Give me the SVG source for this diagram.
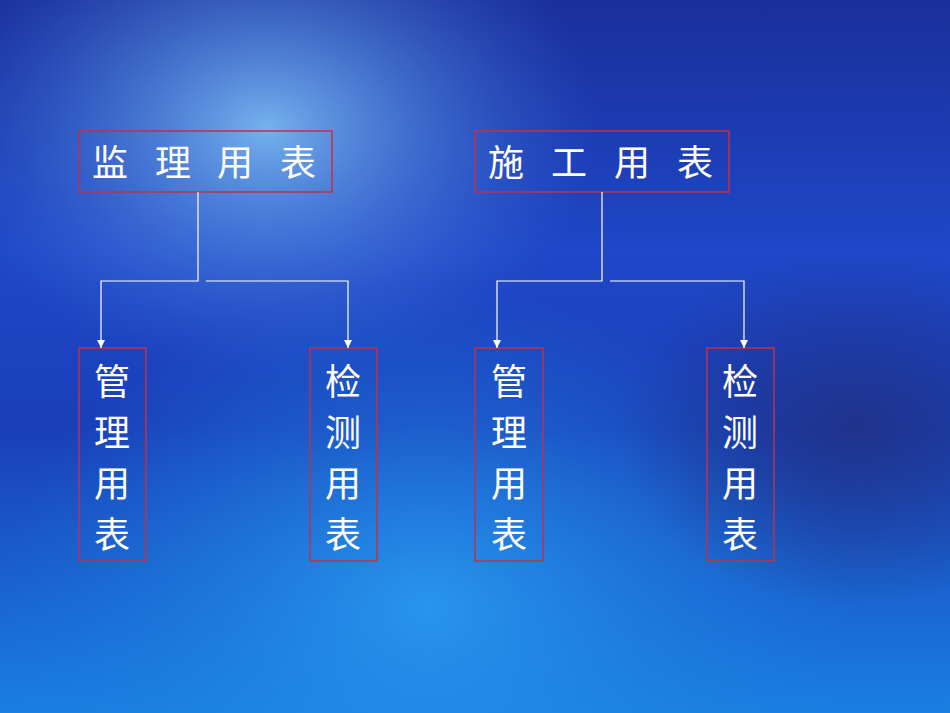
<svg xmlns="http://www.w3.org/2000/svg" width="950" height="713" viewBox="0 0 950 713">
<defs>
<linearGradient id="bg" x1="0" y1="0" x2="0" y2="1">
<stop offset="0" stop-color="#1a2f9a"/><stop offset="0.35" stop-color="#1f47c8"/><stop offset="0.6" stop-color="#1a3fb8"/><stop offset="1" stop-color="#1a7fe0"/>
</linearGradient>
<radialGradient id="g1" cx="0.28" cy="0.18" r="0.35">
<stop offset="0" stop-color="#7ab8f0" stop-opacity="0.95"/><stop offset="1" stop-color="#3a70d8" stop-opacity="0"/>
</radialGradient>
<radialGradient id="g2" cx="0.45" cy="0.85" r="0.45">
<stop offset="0" stop-color="#2a9af0" stop-opacity="0.9"/><stop offset="1" stop-color="#1a7fe0" stop-opacity="0"/>
</radialGradient>
<radialGradient id="g3" cx="0.9" cy="0.6" r="0.25">
<stop offset="0" stop-color="#203080" stop-opacity="0.8"/><stop offset="1" stop-color="#203080" stop-opacity="0"/>
</radialGradient>
<marker id="arr" viewBox="0 0 10 10" refX="10" refY="5" markerWidth="7" markerHeight="7" orient="auto"><path d="M0,0L10,5L0,10z" fill="#fff"/></marker>
<style>
.box{fill:none;stroke:#c0304a;stroke-width:1.5}
.t{fill:#fff;font-family:"Noto Sans CJK SC","Noto Sans",sans-serif;font-size:36px;text-anchor:middle}
.c{fill:none;stroke:#fff;stroke-width:1.2}
</style>
</defs>
<rect width="950" height="713" fill="url(#bg)"/>
<rect width="950" height="713" fill="url(#g1)"/>
<rect width="950" height="713" fill="url(#g2)"/>
<rect width="950" height="713" fill="url(#g3)"/>
<g id="n1"><rect class="box" x="79" y="131" width="253" height="61"/><text class="t" y="176"><tspan x="110">监</tspan><tspan x="173">理</tspan><tspan x="235">用</tspan><tspan x="298">表</tspan></text></g>
<g id="n2"><rect class="box" x="475" y="131" width="254" height="61"/><text class="t" y="176"><tspan x="506">施</tspan><tspan x="569">工</tspan><tspan x="632">用</tspan><tspan x="695">表</tspan></text></g>
<g id="n3"><rect class="box" x="79" y="348" width="67" height="213"/><text class="t"><tspan x="112" y="395">管</tspan><tspan x="112" y="446">理</tspan><tspan x="112" y="497">用</tspan><tspan x="112" y="548">表</tspan></text></g>
<g id="n4"><rect class="box" x="310" y="348" width="67" height="213"/><text class="t"><tspan x="343" y="395">检</tspan><tspan x="343" y="446">测</tspan><tspan x="343" y="497">用</tspan><tspan x="343" y="548">表</tspan></text></g>
<g id="n5"><rect class="box" x="475" y="348" width="68" height="213"/><text class="t"><tspan x="509" y="395">管</tspan><tspan x="509" y="446">理</tspan><tspan x="509" y="497">用</tspan><tspan x="509" y="548">表</tspan></text></g>
<g id="n6"><rect class="box" x="707" y="348" width="67" height="213"/><text class="t"><tspan x="740" y="395">检</tspan><tspan x="740" y="446">测</tspan><tspan x="740" y="497">用</tspan><tspan x="740" y="548">表</tspan></text></g>
<g id="connectors">
<path class="c" d="M198,192V281H101V348" marker-end="url(#arr)"/>
<path class="c" d="M206,281H348V348" marker-end="url(#arr)"/>
<path class="c" d="M602,192V281H497V348" marker-end="url(#arr)"/>
<path class="c" d="M610,281H744V348" marker-end="url(#arr)"/>
</g>
</svg>
